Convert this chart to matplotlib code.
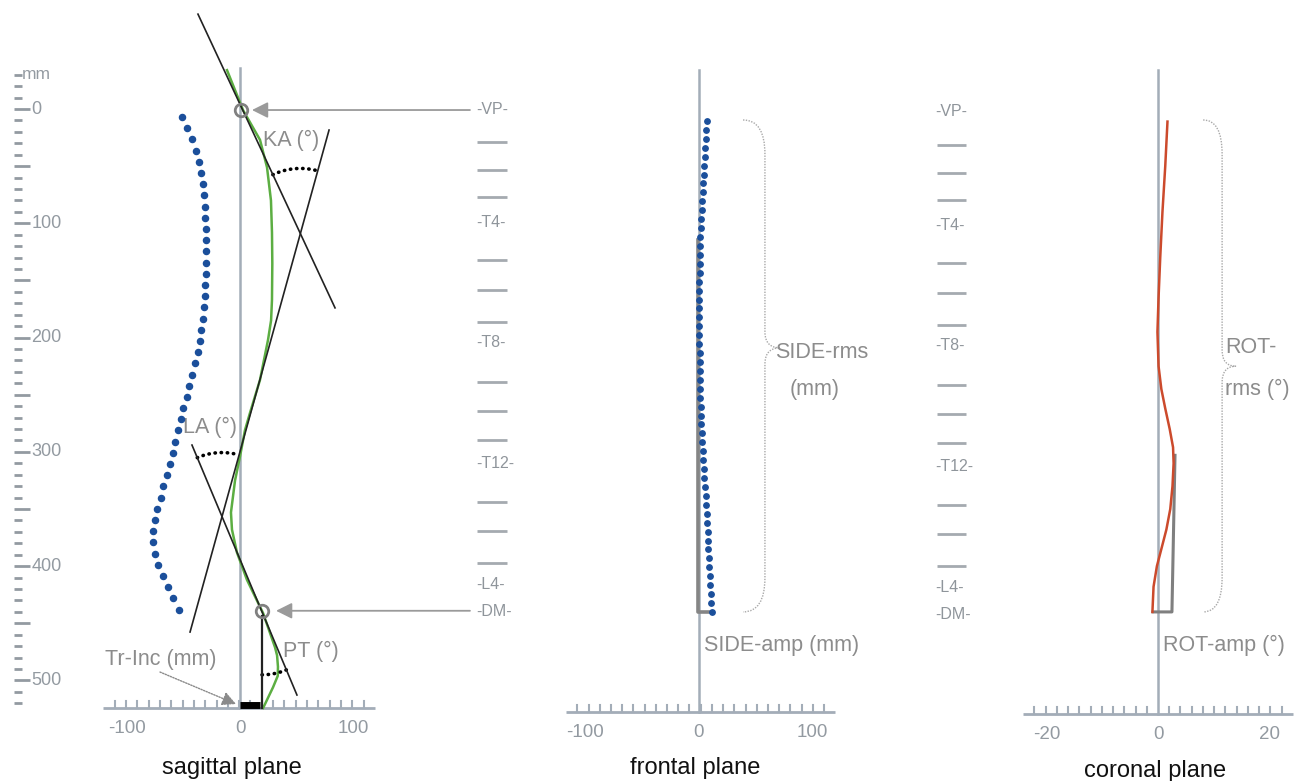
import numpy as np
import matplotlib
matplotlib.use("Agg")
from matplotlib import pyplot as plt
from matplotlib.path import Path
from matplotlib.patches import PathPatch

plt.rcParams['font.family'] = ['Liberation Sans', 'DejaVu Sans']

W, H = 1315, 781
Y0, SY = 109, 1.143          # pixel row of 0 mm, pixels per mm (shared by all panels)

GRAY_AX = '#a3adb8'
GRAY_TX = '#8c8c8c'
GRAY_TK = '#939aa1'

# ---------------- sagittal plane (mm)
sag_dot_y = np.linspace(7, 438, 45)
sag_dot_x = [-51.0, -46.6, -42.8, -38.9, -36.6, -34.8, -33.0, -31.9, -31.0, -30.7,
             -30.4, -30.1, -30.1, -30.1, -30.4, -30.7, -31.3, -31.9, -33.0, -34.2,
             -35.4, -36.9, -39.8, -42.8, -44.8, -47.2, -50.7, -52.5, -55.2, -57.5,
             -59.6, -62.0, -64.9, -67.8, -70.2, -73.2, -75.2, -76.7, -76.7, -75.2,
             -72.3, -67.8, -63.4, -59.0, -53.7]
green_x = [-11.5, 2.7, 17.7, 23.9, 27.4, 28.3, 28.6, 28.3, 27.5, 24.8, 17.7, 8.8, 4.4,
           0.0, -4.4, -8.0, -7.1, -2.7, 6.2, 15.0, 20.4, 31.0, 32.8, 33.6, 33.4, 29.2, 20.5]
green_y = [-34, 1, 27, 51, 80, 108, 135, 167, 185, 202, 237, 266, 281,
           304, 325, 353, 368, 388, 412, 430, 441, 471, 478, 488, 496, 506, 524]
ka_line = [(-37.2, -83), (84.1, 174)]
cross_line = [(78.8, 18.4), (-44.2, 457.6)]
pt_line = [(-42.5, 294), (50.4, 512.7)]
vp_pt = (0.9, 0.9)
dm_pt = (19.5, 439)
tr_inc = 18

# ---------------- frontal plane (mm)
front_y = np.linspace(10.5, 440, 56)
front_x = [6.7, 6.3, 5.9, 5.5, 5.0, 4.6, 4.1, 3.6, 3.1, 2.7, 2.3, 1.9, 1.6, 1.3, 1.0,
           0.8, 0.6, 0.5, 0.4, 0.3, 0.3, 0.3, 0.3, 0.3, 0.4, 0.4, 0.5, 0.6, 0.7, 0.8,
           0.9, 1.1, 1.4, 1.8, 2.2, 2.6, 3.0, 3.4, 3.9, 4.3, 4.8, 5.3, 5.8, 6.2, 6.7,
           7.1, 7.5, 7.9, 8.3, 8.7, 9.1, 9.5, 9.9, 10.3, 10.7, 11.2]
side_amp_x = [-1.2, -1.2, 10]
side_amp_y = [115, 440, 440]

# ---------------- coronal plane (degrees)
rot_x = [1.7, 1.3, 0.8, 0.4, 0.1, -0.1, 0.1, 0.6, 1.3, 2.1, 2.7, 2.8, 2.6, 2.2,
         1.5, 0.6, -0.2, -0.8, -1.0]
rot_y = [11, 50, 90, 130, 165, 195, 225, 245, 262, 280, 296, 310, 330, 350,
         368, 385, 400, 418, 440]
rot_amp_x = [3.05, 2.5, -0.9]
rot_amp_y = [303, 440, 440]

# ---------------- vertebra scale
vert_names = ['-VP-', '-T4-', '-T8-', '-T12-', '-L4-', '-DM-']
vert_pos = [0, 99, 204, 310, 416, 440]
vert_dash = [29, 53, 77, 132, 158, 186, 239, 264, 290, 344, 369, 397]

y_ticks = np.arange(-30, 521, 10)
y_labels = [0, 100, 200, 300, 400, 500]


def panel(x0, sx, name):
    ax = fig.add_axes([0, 0, 1, 1], label=name)
    ax.set_xlim(-x0 / sx, (W - x0) / sx)
    ax.set_ylim((H - Y0) / SY, -Y0 / SY)
    ax.axis('off')
    ax.patch.set_alpha(0)
    return ax


def x_axis(ax, y, lo, hi, step, major, labels, top, caption, cap_x, cap_y):
    ax.plot([lo, hi], [y, y], color=GRAY_AX, lw=2, solid_capstyle='butt')
    n = int(round((hi - lo) / step))
    for t in np.linspace(lo, hi, n + 1)[1:-1]:
        t = round(t, 6)
        if abs(t) < 1e-9:
            continue
        tall = abs(t / major - round(t / major)) < 1e-6
        ax.plot([t, t], [y, y - (13 if tall else 6)], color=GRAY_AX, lw=1.5)
    for v in labels:
        ax.text(v, y + 18, str(v) if v <= 0 else str(v), color=GRAY_TK, fontsize=13.5,
                ha='center', va='center')
    ax.plot([0, 0], [top, y], color=GRAY_AX, lw=1.8, zorder=1)
    ax.text(cap_x, cap_y, caption, color='#111111', fontsize=17, ha='center', va='center')


def intersect(l1, l2):
    (x1, y1), (x2, y2) = l1
    (x3, y3), (x4, y4) = l2
    d = (x1 - x2) * (y3 - y4) - (y1 - y2) * (x3 - x4)
    a = x1 * y2 - y1 * x2
    b = x3 * y4 - y3 * x4
    return ((a * (x3 - x4) - (x1 - x2) * b) / d, (a * (y3 - y4) - (y1 - y2) * b) / d)


def arc(ax, c, p1, p2, r):
    a1 = np.arctan2(p1[1] - c[1], p1[0] - c[0])
    a2 = np.arctan2(p2[1] - c[1], p2[0] - c[0])
    d = (a2 - a1 + np.pi) % (2 * np.pi) - np.pi
    t = np.linspace(a1, a1 + d, 40)
    ax.plot(c[0] + r * np.cos(t), c[1] + r * np.sin(t), color='black', lw=2.6,
            linestyle=(0, (0.1, 1.6)), dash_capstyle='round')


def brace(ax, xe, xm, xt, yt, yc, yb, r, r2):
    verts = [(xe, yt), (xm, yt), (xm, yt + r), (xm, yc - r2), (xm, yc), (xt, yc),
             (xm, yc), (xm, yc + r2), (xm, yb - r), (xm, yb), (xe, yb)]
    codes = [Path.MOVETO, Path.CURVE3, Path.CURVE3, Path.LINETO, Path.CURVE3, Path.CURVE3,
             Path.CURVE3, Path.CURVE3, Path.LINETO, Path.CURVE3, Path.CURVE3]
    ax.add_patch(PathPatch(Path(verts, codes), fill=False, edgecolor='#a8a8a8', lw=1.0,
                           linestyle=(0, (1, 1))))


fig = plt.figure(figsize=(W / 100, H / 100), dpi=100)

# ===== sagittal
ax = panel(240, 1.13, 'sagittal')
x_axis(ax, 524, -121, 119.5, 10, 50, [-100, 0, 100], -36, 'sagittal plane', -7, 576.5)
# ruler on the left
for t in y_ticks:
    long = t % 50 == 0
    ax.plot([-200, -185.8 if long else -192.9], [t, t], color=GRAY_TK, lw=2,
            solid_capstyle='butt')
for v in y_labels:
    ax.text(-184.5, v, str(v), color=GRAY_TK, fontsize=13, ha='left', va='center')
ax.text(-193, -30.6, 'mm', color=GRAY_TK, fontsize=12.5, ha='left', va='center')

ax.plot(green_x, green_y, color='#5cae42', lw=1.8, zorder=2)
for ln in (ka_line, cross_line, pt_line):
    ax.plot([ln[0][0], ln[1][0]], [ln[0][1], ln[1][1]], color='#222222', lw=1.2, zorder=3)
ax.plot([dm_pt[0], dm_pt[0]], [dm_pt[1] + 5, 524], color='#222222', lw=1.6, zorder=3)
ax.plot([0, tr_inc], [521.5, 521.5], color='black', lw=5, solid_capstyle='butt', zorder=4)
ax.plot(*vp_pt, marker='o', ms=9, mfc='none', mec='#808080', mew=2, zorder=5)
ax.plot(*dm_pt, marker='o', ms=9, mfc='none', mec='#808080', mew=2, zorder=5)
ax.plot(sag_dot_x, sag_dot_y, ls='none', marker='o', ms=4.4, color='#1b4f9b', zorder=4)

arc(ax, intersect(ka_line, cross_line), ka_line[0], cross_line[0], 57)
arc(ax, intersect(cross_line, pt_line), pt_line[0], cross_line[0], 56)
arc(ax, dm_pt, (dm_pt[0], dm_pt[1] + 50), pt_line[1], 56)

arrow = dict(arrowstyle='-|>,head_length=0.6,head_width=0.3', color='#9a9a9a', lw=1.3,
             mutation_scale=16, shrinkA=0, shrinkB=0)
ax.annotate('', xy=(10.6, 0.9), xytext=(203.5, 0.9), arrowprops=arrow)
ax.annotate('', xy=(31.9, 439), xytext=(203.5, 439), arrowprops=arrow)
ax.annotate('', xy=(-3.5, 520.6), xytext=(-70.8, 492.6),
            arrowprops=dict(arrowstyle='-|>,head_length=0.6,head_width=0.3', color='#8a8a8a',
                            lw=1.0, ls=(0, (1, 1)), mutation_scale=14, shrinkA=0, shrinkB=0))

ax.text(20.4, 27.1, 'KA (°)', color=GRAY_TX, fontsize=15.5, ha='left', va='center')
ax.text(-50.4, 279, 'LA (°)', color=GRAY_TX, fontsize=15.5, ha='left', va='center')
ax.text(38, 475, 'PT (°)', color=GRAY_TX, fontsize=15.5, ha='left', va='center')
ax.text(-119.5, 482, 'Tr-Inc (mm)', color=GRAY_TX, fontsize=15.5, ha='left', va='center')

# vertebra scales (placed in sagittal mm coordinates)
for x_lab, x_d0, x_d1, dy in ((208.8, 209.7, 236.3, 0), (615, 616.8, 642.5, 2.6)):
    for name, p in zip(vert_names, vert_pos):
        ax.text(x_lab, p + dy, name, color='#8f959b', fontsize=11.5, ha='left', va='center')
    for p in vert_dash:
        ax.plot([x_d0, x_d1], [p + dy, p + dy], color='#a5aab0', lw=2, solid_capstyle='butt')

# ===== frontal
ax = panel(699, 1.135, 'frontal')
x_axis(ax, 527.6, -117, 120, 10, 50, [-100, 0, 100], -34, 'frontal plane', -3.5, 576.5)
ax.plot(side_amp_x, side_amp_y, color='#858585', lw=2.6, zorder=2)
ax.plot(front_x, front_y, ls='none', marker='o', ms=3.9, color='#1b4f9b', zorder=3)
brace(ax, 38.8, 58.1, 71.4, 9.6, 209, 440, 30, 14)
ax.text(67, 212.6, 'SIDE-rms', color=GRAY_TX, fontsize=15.5, ha='left', va='center')
ax.text(80.2, 245.8, '(mm)', color=GRAY_TX, fontsize=15.5, ha='left', va='center')
ax.text(4.4, 469, 'SIDE-amp (mm)', color=GRAY_TX, fontsize=15.5, ha='left', va='center')

# ===== coronal
ax = panel(1158, 5.575, 'coronal')
x_axis(ax, 529.3, -24.2, 24.2, 2, 10, [-20, 0, 20], -34, 'coronal plane', -0.5, 579)
ax.plot(rot_amp_x, rot_amp_y, color='#7f7f7f', lw=2.2, zorder=2)
ax.plot(rot_x, rot_y, color='#cc4a2c', lw=1.8, zorder=3)
brace(ax, 8.1, 11.5, 14.0, 9.6, 225, 440, 30, 14)
ax.text(12, 209, 'ROT-', color=GRAY_TX, fontsize=15.5, ha='left', va='center')
ax.text(12, 245, 'rms (°)', color=GRAY_TX, fontsize=15.5, ha='left', va='center')
ax.text(0.9, 469, 'ROT-amp (°)', color=GRAY_TX, fontsize=15.5, ha='left', va='center')

fig.savefig('out.png', dpi=100, facecolor='white')
